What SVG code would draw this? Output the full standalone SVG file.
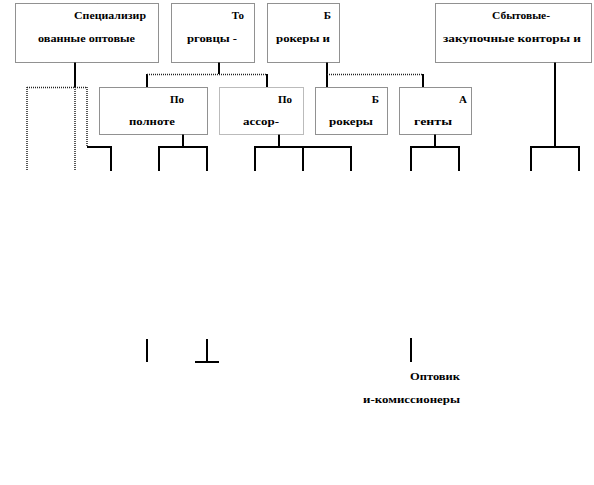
<svg xmlns="http://www.w3.org/2000/svg" width="594" height="485" viewBox="0 0 594 485">
<style>
.box{fill:#fff;stroke:#222;stroke-width:1;stroke-dasharray:1 1}
.t{font-family:"Liberation Serif","Times New Roman",serif;font-weight:bold;font-size:11px;fill:#000}
.s{fill:none;stroke:#000;stroke-width:2}
.d{fill:none;stroke:#222;stroke-width:1.5;stroke-dasharray:1 1}
</style>
<rect width="594" height="485" fill="#fff"/>
<g id="connectors">
<path class="s" d="M75 62V87M219 62V74M147 74V87M267 74V87M327 62V87M423 74V87M555 62V147M531 171V147H579V171M87 147H111V171M183 134V147M159 171V147H207V171M279 134V147M255 171V147H351V171M303 147V171M435 134V147M411 171V147H459V171"/>
<path class="s" d="M147 339V362M207 339V362M195 362H219M411 338V362"/>
<path class="d" d="M147 74.5H267M327 74.5H423M27 87.5H87M27 87V171M75 87V171M87 87V147"/>
</g>
<g id="n1"><rect class="box" x="15.5" y="3.5" width="143" height="59"/>
<text class="t" x="146" y="19" text-anchor="end" textLength="72" lengthAdjust="spacingAndGlyphs">Специализир</text>
<text class="t" x="38" y="42" textLength="97" lengthAdjust="spacingAndGlyphs">ованные оптовые</text></g>
<g id="n2"><rect class="box" x="171.5" y="3.5" width="83" height="59"/>
<text class="t" x="244" y="19" text-anchor="end">То</text>
<text class="t" x="187" y="42" textLength="50" lengthAdjust="spacingAndGlyphs">рговцы -</text></g>
<g id="n3"><rect class="box" x="267.5" y="3.5" width="72" height="59"/>
<text class="t" x="331" y="19" text-anchor="end">Б</text>
<text class="t" x="276" y="42" textLength="54" lengthAdjust="spacingAndGlyphs">рокеры и</text></g>
<g id="n4"><rect class="box" x="435.5" y="3.5" width="156" height="59"/>
<text class="t" x="492" y="19" textLength="58" lengthAdjust="spacingAndGlyphs">Сбытовые-</text>
<text class="t" x="443" y="42" textLength="138" lengthAdjust="spacingAndGlyphs">закупочные  конторы  и</text></g>
<g id="n5"><rect class="box" x="99.5" y="87.5" width="108" height="47"/>
<text class="t" x="184" y="103" text-anchor="end">По</text>
<text class="t" x="129" y="125" textLength="46" lengthAdjust="spacingAndGlyphs">полноте</text></g>
<g id="n6"><rect class="box" x="219.5" y="87.5" width="84" height="47" style="stroke:#777"/>
<text class="t" x="292" y="103" text-anchor="end">По</text>
<text class="t" x="243" y="125" textLength="36" lengthAdjust="spacingAndGlyphs">ассор-</text></g>
<g id="n7"><rect class="box" x="315.5" y="87.5" width="72" height="47"/>
<text class="t" x="379" y="103" text-anchor="end">Б</text>
<text class="t" x="329" y="125" textLength="44" lengthAdjust="spacingAndGlyphs">рокеры</text></g>
<g id="n8"><rect class="box" x="399.5" y="87.5" width="72" height="47"/>
<text class="t" x="467" y="103" text-anchor="end">А</text>
<text class="t" x="414" y="125" textLength="38" lengthAdjust="spacingAndGlyphs">генты</text></g>
<g id="n9">
<text class="t" x="460" y="380" text-anchor="end" textLength="50" lengthAdjust="spacingAndGlyphs">Оптовик</text>
<text class="t" x="363" y="403" textLength="97" lengthAdjust="spacingAndGlyphs">и-комиссионеры</text></g>
</svg>
